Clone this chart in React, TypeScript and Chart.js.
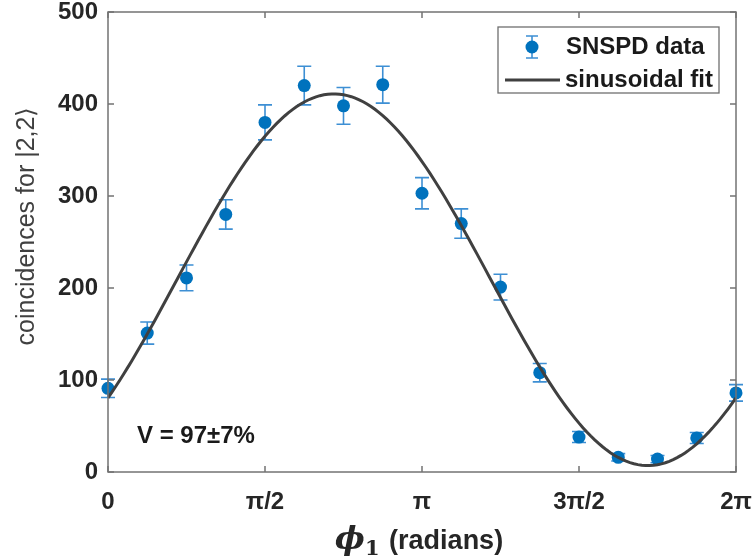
import React, { useEffect, useRef } from "react";
import { Chart, registerables } from "chart.js";

Chart.register(...registerables);

// ---- data ----
const phaseEighths = [0, 1, 2, 3, 4, 5, 6, 7, 8, 9, 10, 11, 12, 13, 14, 15, 16];
const counts = [91, 151, 211, 280, 380, 420, 398, 421, 303, 270, 201, 108, 38, 16, 14, 37, 86];
const countErrors = [10, 12, 14, 16, 19, 21, 20, 20, 17, 16, 14, 10, 6, 4, 4, 6, 9];
const xTickValues = [0, Math.PI / 2, Math.PI, (3 * Math.PI) / 2, 2 * Math.PI];
const xTickLabels = ["0", "π/2", "π", "3π/2", "2π"];
const yTickValues = [0, 100, 200, 300, 400, 500];
const seriesLabels = ["SNSPD data", "sinusoidal fit"];
const axisTitleY = "coincidences for |2,2⟩";
const axisTitleXSymbol = "ϕ";
const axisTitleXSub = "1";
const axisTitleXRest = " (radians)";
const visibilityText = "V = 97±7%";
// sinusoidal fit parameters: offset + amplitude * cos(phi - peakPhase)
const fitOffset = 209;
const fitAmplitude = 202;
const fitPeakPhase = 2.26;
const fitSampleCount = 161;

const POINT_COLOR = "#0072BD";
const BAR_COLOR = "#3d8fd4";
const FIT_COLOR = "#404040";
const AXIS_COLOR = "#737373";
const TEXT_COLOR = "#262626";
const SANS = "'Liberation Sans', Arial, Helvetica, sans-serif";

const pointData = phaseEighths.map((k, i) => ({ x: (k * Math.PI) / 8, y: counts[i] }));
const fitData = Array.from({ length: fitSampleCount }, (_, i) => {
  const phi = (i / (fitSampleCount - 1)) * 2 * Math.PI;
  return { x: phi, y: fitOffset + fitAmplitude * Math.cos(phi - fitPeakPhase) };
});

function drawErrorMarker(ctx: CanvasRenderingContext2D, x: number, yTop: number, yBot: number, yMid: number, cap: number, r: number) {
  ctx.save();
  ctx.strokeStyle = BAR_COLOR;
  ctx.lineWidth = 1.6;
  ctx.beginPath();
  ctx.moveTo(x, yTop);
  ctx.lineTo(x, yBot);
  ctx.moveTo(x - cap, yTop);
  ctx.lineTo(x + cap, yTop);
  ctx.moveTo(x - cap, yBot);
  ctx.lineTo(x + cap, yBot);
  ctx.stroke();
  if (r > 0) {
    ctx.fillStyle = POINT_COLOR;
    ctx.beginPath();
    ctx.arc(x, yMid, r, 0, Math.PI * 2);
    ctx.fill();
  }
  ctx.restore();
}

const errorBarPlugin = {
  id: "errorBars",
  beforeDatasetsDraw(chart: any) {
    const { ctx, scales } = chart;
    const xs = scales.x;
    const ys = scales.y;
    pointData.forEach((p, i) => {
      const px = xs.getPixelForValue(p.x);
      const yTop = ys.getPixelForValue(p.y + countErrors[i]);
      const yBot = ys.getPixelForValue(p.y - countErrors[i]);
      drawErrorMarker(ctx, px, yTop, yBot, 0, 7, 0);
    });
  },
};

const framePlugin = {
  id: "frame",
  afterDraw(chart: any) {
    const { ctx, chartArea, scales } = chart;
    const { left, right, top, bottom } = chartArea;
    ctx.save();
    ctx.strokeStyle = AXIS_COLOR;
    ctx.lineWidth = 1.5;
    ctx.strokeRect(left, top, right - left, bottom - top);
    const tl = 6;
    ctx.beginPath();
    xTickValues.forEach((v) => {
      const px = scales.x.getPixelForValue(v);
      ctx.moveTo(px, bottom);
      ctx.lineTo(px, bottom - tl);
      ctx.moveTo(px, top);
      ctx.lineTo(px, top + tl);
    });
    yTickValues.forEach((v) => {
      const py = scales.y.getPixelForValue(v);
      ctx.moveTo(left, py);
      ctx.lineTo(left + tl, py);
      ctx.moveTo(right, py);
      ctx.lineTo(right - tl, py);
    });
    ctx.stroke();
    ctx.restore();
  },
};

const overlayPlugin = {
  id: "overlay",
  afterDraw(chart: any) {
    const { ctx, chartArea } = chart;
    const labels = chart.data.datasets.map((d: any) => d.label);
    // legend box
    const bx1 = chartArea.right - 17;
    const bx0 = bx1 - 221;
    const by0 = chartArea.top + 15;
    const by1 = by0 + 66;
    ctx.save();
    ctx.fillStyle = "#ffffff";
    ctx.fillRect(bx0, by0, bx1 - bx0, by1 - by0);
    ctx.strokeStyle = "#6f6f6f";
    ctx.lineWidth = 1.3;
    ctx.strokeRect(bx0, by0, bx1 - bx0, by1 - by0);
    const row1 = by0 + 20;
    const row2 = by0 + 53;
    drawErrorMarker(ctx, bx0 + 34, row1 - 11, row1 + 11, row1, 6, 6.5);
    ctx.strokeStyle = FIT_COLOR;
    ctx.lineWidth = 3;
    ctx.beginPath();
    ctx.moveTo(bx0 + 7, row2);
    ctx.lineTo(bx0 + 62, row2);
    ctx.stroke();
    ctx.fillStyle = "#1a1a1a";
    ctx.font = `bold 24px ${SANS}`;
    ctx.textBaseline = "middle";
    ctx.textAlign = "left";
    ctx.fillText(labels[1], bx0 + 68, row1);
    ctx.fillText(labels[0], bx0 + 67, row2);

    // visibility annotation
    ctx.fillStyle = "#1a1a1a";
    ctx.font = `bold 24px ${SANS}`;
    ctx.fillText(visibilityText, chartArea.left + 29, chartArea.bottom - 36);

    // y axis title
    ctx.save();
    ctx.translate(27, (chartArea.top + chartArea.bottom) / 2 - 16);
    ctx.rotate(-Math.PI / 2);
    ctx.textAlign = "center";
    ctx.textBaseline = "middle";
    ctx.fillStyle = "#404040";
    ctx.font = `25px ${SANS}`;
    ctx.fillText(axisTitleY, 0, 0);
    ctx.restore();

    // x axis title
    const cx = (chartArea.left + chartArea.right) / 2;
    const cy = 540;
    const fSym = `italic bold 32px 'DejaVu Serif', serif`;
    const fSub = `bold 21px 'DejaVu Serif', serif`;
    const fRest = `bold 27px ${SANS}`;
    ctx.font = fSym;
    const wSym = ctx.measureText(axisTitleXSymbol).width;
    ctx.font = fSub;
    const wSub = ctx.measureText(axisTitleXSub).width;
    ctx.font = fRest;
    const wRest = ctx.measureText(axisTitleXRest).width;
    let x = cx - (wSym + wSub + 2 + wRest) / 2 - 3;
    ctx.textAlign = "left";
    ctx.textBaseline = "alphabetic";
    ctx.fillStyle = TEXT_COLOR;
    ctx.font = fSym;
    ctx.fillText(axisTitleXSymbol, x, cy + 9);
    x += wSym;
    ctx.font = fSub;
    ctx.fillText(axisTitleXSub, x, cy + 15);
    x += wSub + 2;
    ctx.font = fRest;
    ctx.fillText(axisTitleXRest, x, cy + 9);
    ctx.restore();
  },
};

export default function App() {
  const canvasRef = useRef<HTMLCanvasElement | null>(null);

  useEffect(() => {
    document.body.style.margin = "0";
    const canvas = canvasRef.current;
    if (!canvas) return;
    const chart = new Chart(canvas, {
      type: "scatter",
      data: {
        datasets: [
          {
            type: "line",
            label: seriesLabels[1],
            data: fitData,
            borderColor: FIT_COLOR,
            borderWidth: 3,
            pointRadius: 0,
            fill: false,
            tension: 0,
            order: 0,
          } as any,
          {
            type: "scatter",
            label: seriesLabels[0],
            data: pointData,
            backgroundColor: POINT_COLOR,
            borderWidth: 0,
            pointRadius: 6.5,
            clip: false,
            order: 1,
          } as any,
        ],
      },
      options: {
        responsive: false,
        animation: false,
        events: [],
        layout: { padding: { left: 0, right: 16, top: 12, bottom: 0 } },
        plugins: {
          legend: { display: false },
          tooltip: { enabled: false },
          title: { display: false },
        },
        scales: {
          x: {
            type: "linear",
            min: 0,
            max: 2 * Math.PI,
            grid: { display: false },
            border: { display: false },
            afterBuildTicks: (scale: any) => {
              scale.ticks = xTickValues.map((v) => ({ value: v }));
            },
            afterFit: (scale: any) => {
              scale.height = 88;
              scale.paddingLeft = 0;
              scale.paddingRight = 0;
            },
            ticks: {
              autoSkip: false,
              maxRotation: 0,
              padding: 8,
              color: TEXT_COLOR,
              font: { family: SANS, size: 24, weight: "bold" },
              callback: (_v: any, index: number) => xTickLabels[index],
            },
          },
          y: {
            type: "linear",
            min: 0,
            max: 500,
            grid: { display: false },
            border: { display: false },
            afterBuildTicks: (scale: any) => {
              scale.ticks = yTickValues.map((v) => ({ value: v }));
            },
            afterFit: (scale: any) => {
              scale.width = 108;
              scale.paddingTop = 0;
              scale.paddingBottom = 0;
            },
            ticks: {
              padding: 2,
              color: TEXT_COLOR,
              font: { family: SANS, size: 24, weight: "bold" },
            },
            title: { display: false },
          },
        },
      },
      plugins: [errorBarPlugin, framePlugin, overlayPlugin],
    });
    return () => chart.destroy();
  }, []);

  return (
    <div style={{ width: 752, height: 560 }}>
      <canvas ref={canvasRef} width={752} height={560} style={{ display: "block" }} />
    </div>
  );
}
